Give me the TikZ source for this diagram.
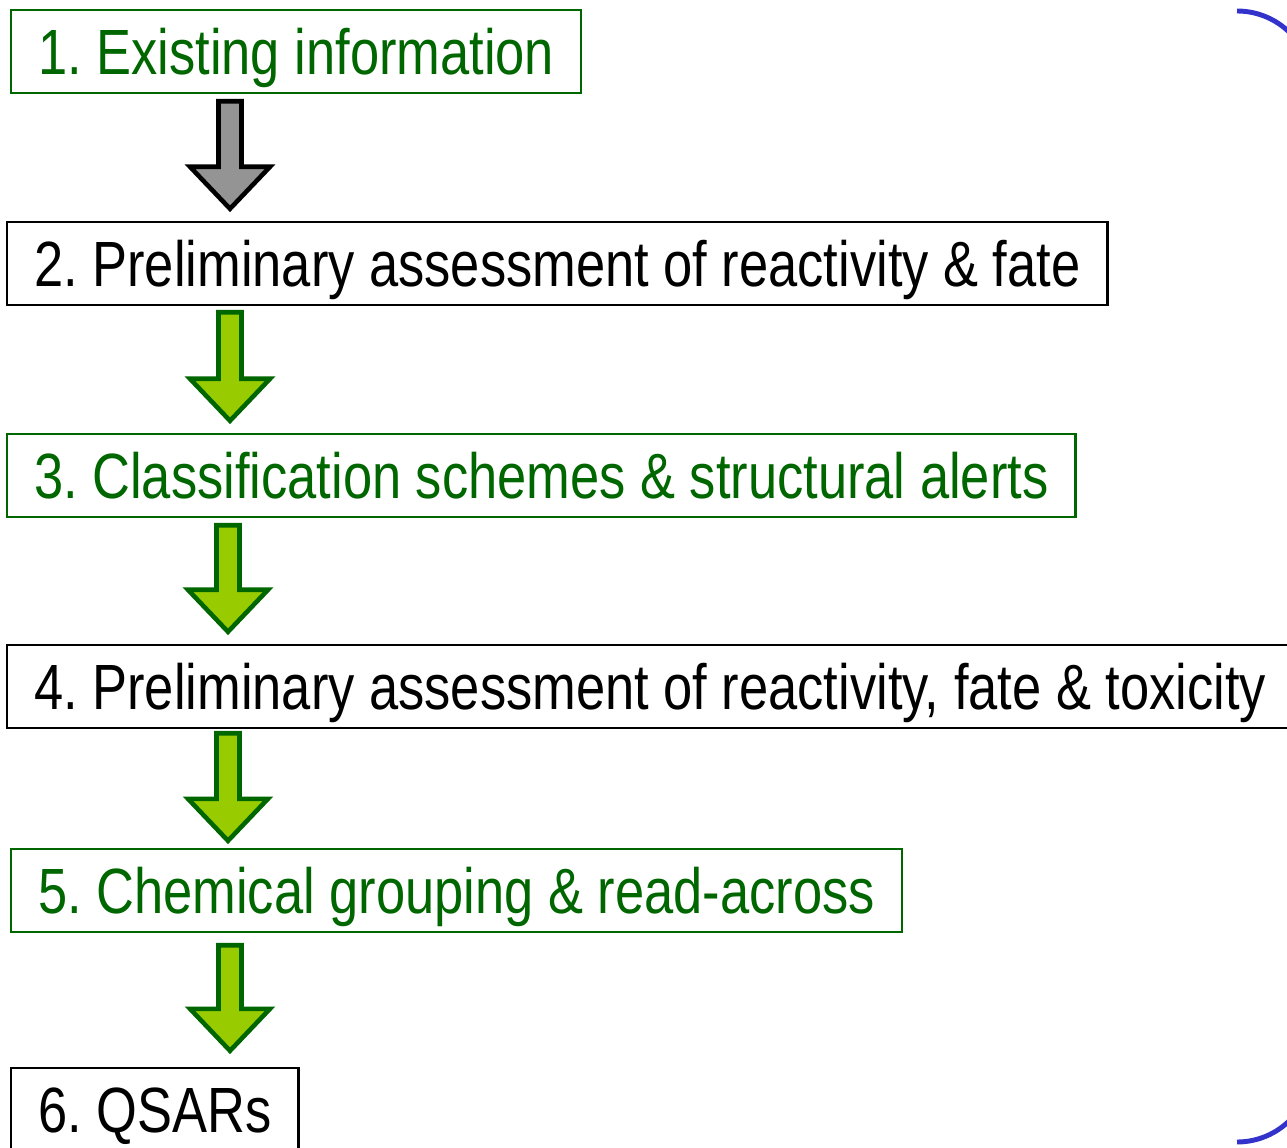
\documentclass[tikz,border=0pt]{standalone}
\usepackage{fontspec}
\usepackage{tikz}
\usetikzlibrary{calc}
\newfontfamily\stepfont[FakeStretch=0.82]{Liberation Sans}
\frenchspacing
\definecolor{darkgreen}{RGB}{0,102,0}
\definecolor{limegreen}{RGB}{153,204,0}
\definecolor{bracketblue}{RGB}{51,51,204}
\tikzstyle{stepnode}=[draw,rectangle,anchor=west,line width=1.4pt,minimum height=1.66cm,inner xsep=0.54cm,inner ysep=0pt,text height=0.92cm,text depth=0pt,font=\stepfont\fontsize{36.4}{40}\selectfont]
\tikzstyle{greenstep}=[stepnode,draw=darkgreen,text=darkgreen]
\tikzstyle{blackstep}=[stepnode,draw=black,text=black]
\tikzstyle{greyarrow}=[draw=black,fill=black!42,line width=2.6pt]
\tikzstyle{greenarrow}=[draw=darkgreen,fill=limegreen,line width=2.6pt]
\tikzstyle{bracket}=[draw=bracketblue,line width=2.8pt,rounded corners=1.5cm]

\begin{document}
\begin{tikzpicture}[x=0.02cm,y=-0.02cm]
    \useasboundingbox (0,0) rectangle (1287,1148);
    % First we draw the steps
    \foreach \pos/\name/\kind/\label in {{(10,51.5)/b1/greenstep/{1. Existing information}},
        {(6,263.5)/b2/blackstep/{2. Preliminary assessment of reactivity \& fate}},
        {(6,475.5)/b3/greenstep/{3. Classification schemes \& structural alerts}},
        {(6,686.5)/b4/blackstep/{4. Preliminary assessment of reactivity, fate \& toxicity}},
        {(10,890.5)/b5/greenstep/{5. Chemical grouping \& read-across}},
        {(10,1109.5)/b6/blackstep/{6. QSARs}}}
        \node[\kind] (\name) at \pos {\label};
    % Connect steps with block arrows
    \foreach \source/\dest/\ax/\gt/\gb/\kind in {b1/b2/230/7/9/greyarrow, b2/b3/230/6/9/greenarrow,
        b3/b4/228/7/9/greenarrow, b4/b5/228/4/4/greenarrow, b5/b6/230/12/13/greenarrow}
        \path[\kind] ($(\ax,0 |- \source.south)+(-11.5,\gt)$)
            -- ($(\ax,0 |- \dest.north)+(-11.5,-\gb-45)$)
            -- ($(\ax,0 |- \dest.north)+(-40,-\gb-45)$)
            -- ($(\ax,0 |- \dest.north)+(0,-\gb-3)$)
            -- ($(\ax,0 |- \dest.north)+(40,-\gb-45)$)
            -- ($(\ax,0 |- \dest.north)+(11.5,-\gb-45)$)
            -- ($(\ax,0 |- \source.south)+(11.5,\gt)$) -- cycle;
    % Bracket on the right
    \path[bracket] (1237,11) -- (1312,11) -- (1312,1142) -- (1237,1142);
\end{tikzpicture}
\end{document}
